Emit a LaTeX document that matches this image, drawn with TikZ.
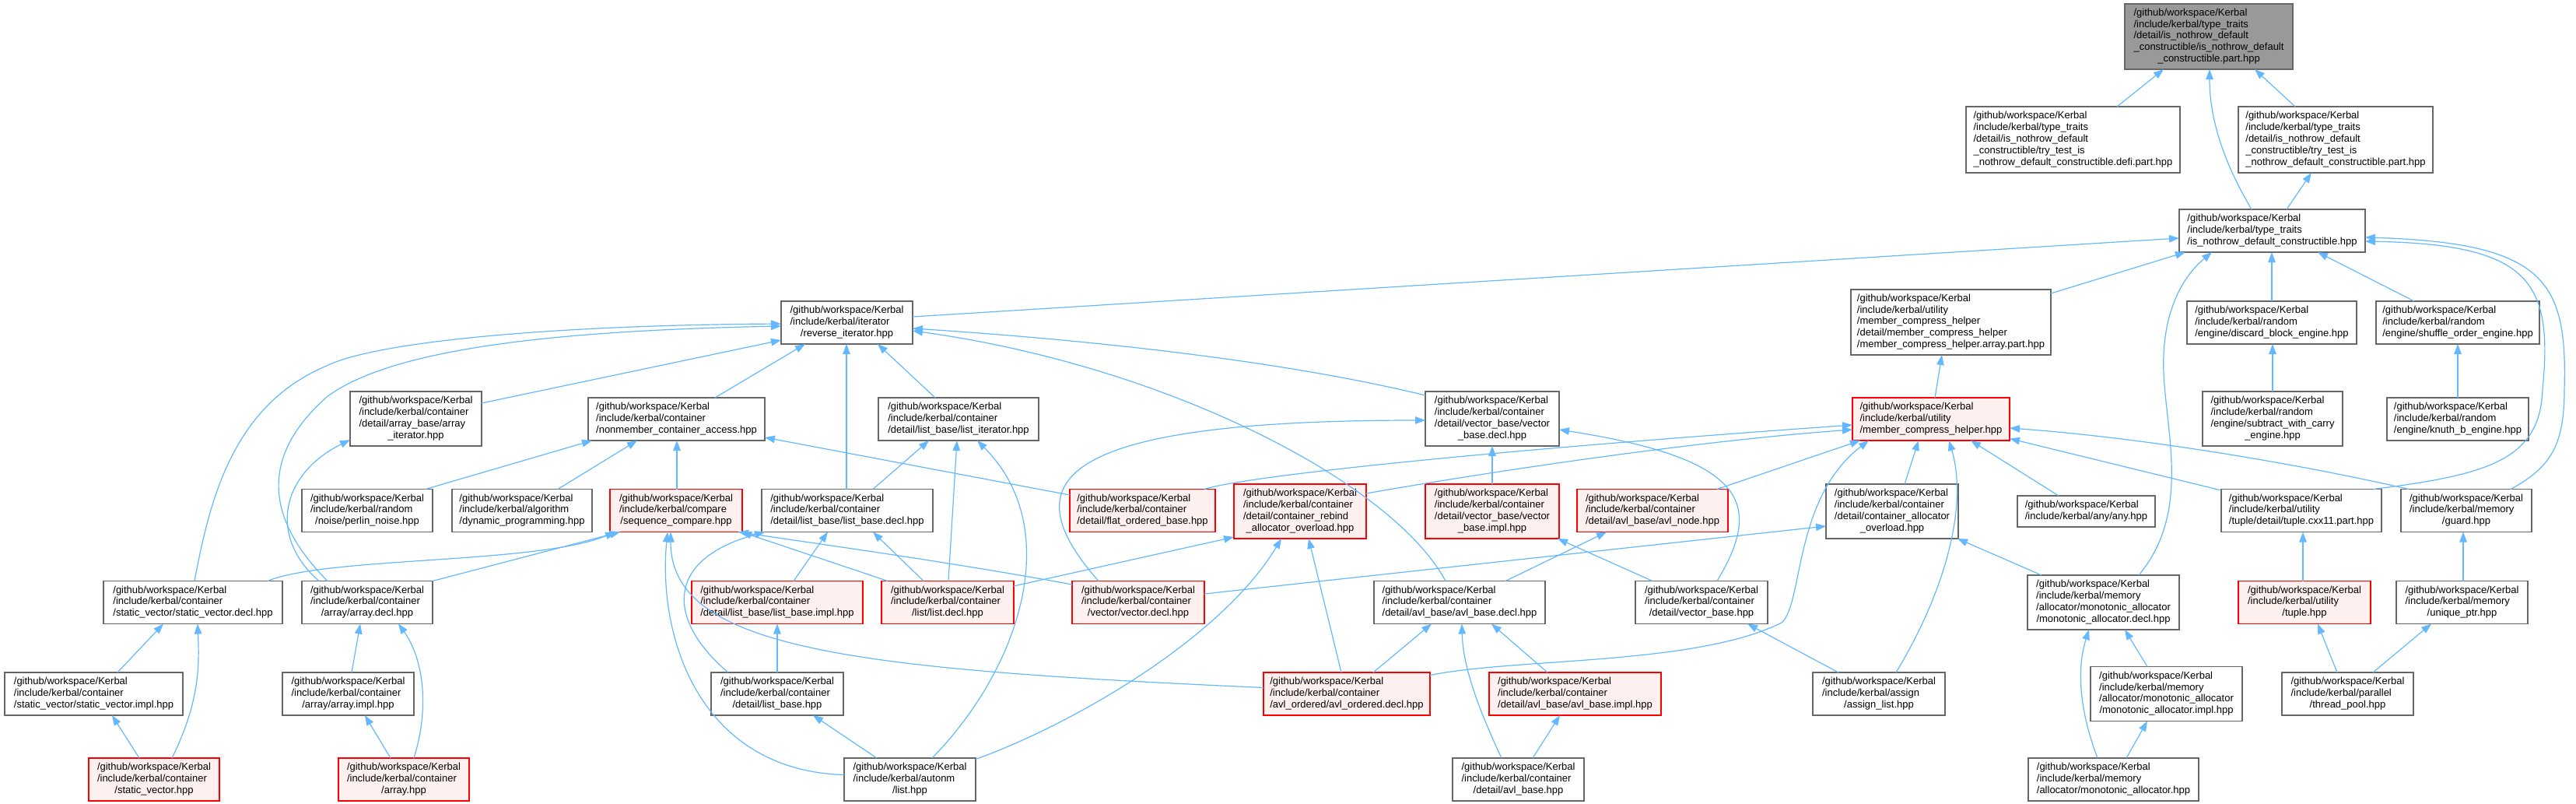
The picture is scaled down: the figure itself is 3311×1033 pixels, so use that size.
\documentclass[tikz,border=0pt]{standalone}
\usepackage{fontspec}
\setmainfont{Liberation Sans}
\usetikzlibrary{arrows.meta,calc}
\definecolor{edgec}{HTML}{63B8FF}
\definecolor{bordc}{HTML}{666666}
\definecolor{redb}{HTML}{FF0000}
\definecolor{redf}{HTML}{FFF0F0}
\definecolor{rootf}{HTML}{999999}
\newcommand\lastl[1]{\multicolumn{1}{@{}c@{}}{#1}}
\newcommand\lbl[1]{\begin{tabular}{@{}l@{}}#1\end{tabular}}
\newcommand\gw{/github/workspace/Kerbal\\}
\newcommand\edg[4]{\draw[edge] ($(#1)+(#2)$) -- ($(#3)+(#4)$);}
\begin{document}
\begin{tikzpicture}[x=1pt,y=-1pt,
  nd/.style={draw=bordc, line width=1.4pt, fill=white, inner sep=0pt, font=\fontsize{13}{14.8}\selectfont},
  rd/.style={nd, draw=redb, fill=redf},
  gd/.style={nd, fill=rootf},
  sz/.style 2 args={minimum width=#1pt, minimum height=#2pt},
  edge/.style={draw=edgec, line width=1.2pt, -{Triangle[length=13pt,width=9.5pt]}}]
\useasboundingbox (0,0) rectangle (3311,1033);

% row A-C
\node[gd, sz={216}{84}] (root) at (2839,47) {\lbl{\gw/include/kerbal/type\_traits\\/detail/is\_nothrow\_default\\\_constructible/is\_nothrow\_default\\\lastl{\_constructible.part.hpp}}};
\node[nd, sz={275}{85}] (defi) at (2664.5,179.5) {\lbl{\gw/include/kerbal/type\_traits\\/detail/is\_nothrow\_default\\\_constructible/try\_test\_is\\\lastl{\_nothrow\_default\_constructible.defi.part.hpp}}};
\node[nd, sz={250}{85}] (tpart) at (3002,179.5) {\lbl{\gw/include/kerbal/type\_traits\\/detail/is\_nothrow\_default\\\_constructible/try\_test\_is\\\lastl{\_nothrow\_default\_constructible.part.hpp}}};
\node[nd, sz={239}{55}] (isn) at (2920.5,296.5) {\lbl{\gw/include/kerbal/type\_traits\\\lastl{/is\_nothrow\_default\_constructible.hpp}}};

% row D
\node[nd, sz={169}{55}] (rev) at (1088.5,414.5) {\lbl{\gw/include/kerbal/iterator\\\lastl{/reverse\_iterator.hpp}}};
\node[nd, sz={257}{84}] (mcha) at (2507.5,414) {\lbl{\gw/include/kerbal/utility\\/member\_compress\_helper\\/detail/member\_compress\_helper\\\lastl{/member\_compress\_helper.array.part.hpp}}};
\node[nd, sz={218}{55}] (disc) at (2920,414.5) {\lbl{\gw/include/kerbal/random\\\lastl{/engine/discard\_block\_engine.hpp}}};
\node[nd, sz={210}{55}] (shuf) at (3159,414.5) {\lbl{\gw/include/kerbal/random\\\lastl{/engine/shuffle\_order\_engine.hpp}}};

% row E
\node[nd, sz={169}{70}] (arit) at (534.5,538) {\lbl{\gw/include/kerbal/container\\/detail/array\_base/array\\\lastl{\_iterator.hpp}}};
\node[nd, sz={227}{55}] (nmca) at (869.5,538.5) {\lbl{\gw/include/kerbal/container\\\lastl{/nonmember\_container\_access.hpp}}};
\node[nd, sz={206}{55}] (lit) at (1232,538.5) {\lbl{\gw/include/kerbal/container\\\lastl{/detail/list\_base/list\_iterator.hpp}}};
\node[nd, sz={172}{70}] (vbd) at (1918,538) {\lbl{\gw/include/kerbal/container\\/detail/vector\_base/vector\\\lastl{\_base.decl.hpp}}};
\node[rd, sz={202}{55}] (mch) at (2482,538.5) {\lbl{\gw/include/kerbal/utility\\\lastl{/member\_compress\_helper.hpp}}};
\node[nd, sz={180}{70}] (swc) at (2921,538) {\lbl{\gw/include/kerbal/random\\/engine/subtract\_with\_carry\\\lastl{\_engine.hpp}}};
\node[nd, sz={182}{55}] (knb) at (3159,538.5) {\lbl{\gw/include/kerbal/random\\\lastl{/engine/knuth\_b\_engine.hpp}}};

% row F
\node[nd, sz={168}{55}] (perl) at (472,656) {\lbl{\gw/include/kerbal/random\\\lastl{/noise/perlin\_noise.hpp}}};
\node[nd, sz={180}{55}] (dyn) at (671,656) {\lbl{\gw/include/kerbal/algorithm\\\lastl{/dynamic\_programming.hpp}}};
\node[rd, sz={170}{55}] (seq) at (869,656) {\lbl{\gw/include/kerbal/compare\\\lastl{/sequence\_compare.hpp}}};
\node[nd, sz={220}{55}] (lbd) at (1089,656) {\lbl{\gw/include/kerbal/container\\\lastl{/detail/list\_base/list\_base.decl.hpp}}};
\node[rd, sz={187}{55}] (fob) at (1468.5,656) {\lbl{\gw/include/kerbal/container\\\lastl{/detail/flat\_ordered\_base.hpp}}};
\node[rd, sz={170}{70}] (cra) at (1671,657) {\lbl{\gw/include/kerbal/container\\/detail/container\_rebind\\\lastl{\_allocator\_overload.hpp}}};
\node[rd, sz={172}{70}] (vbi) at (1918,657) {\lbl{\gw/include/kerbal/container\\/detail/vector\_base/vector\\\lastl{\_base.impl.hpp}}};
\node[rd, sz={194}{55}] (avn) at (2124,656) {\lbl{\gw/include/kerbal/container\\\lastl{/detail/avl\_base/avl\_node.hpp}}};
\node[nd, sz={170}{70}] (cao) at (2432,657) {\lbl{\gw/include/kerbal/container\\/detail/container\_allocator\\\lastl{\_overload.hpp}}};
\node[nd, sz={177}{40}] (any) at (2681.5,657) {\lbl{\gw\lastl{/include/kerbal/any/any.hpp}}};
\node[nd, sz={206}{55}] (tcx) at (2958,656) {\lbl{\gw/include/kerbal/utility\\\lastl{/tuple/detail/tuple.cxx11.part.hpp}}};
\node[nd, sz={168}{55}] (grd) at (3170,656) {\lbl{\gw/include/kerbal/memory\\\lastl{/guard.hpp}}};

% row G
\node[nd, sz={230}{55}] (svd) at (248,774) {\lbl{\gw/include/kerbal/container\\\lastl{/static\_vector/static\_vector.decl.hpp}}};
\node[nd, sz={168}{55}] (ard) at (472,774) {\lbl{\gw/include/kerbal/container\\\lastl{/array/array.decl.hpp}}};
\node[rd, sz={220}{55}] (lbi) at (999,774) {\lbl{\gw/include/kerbal/container\\\lastl{/detail/list\_base/list\_base.impl.hpp}}};
\node[rd, sz={170}{55}] (ld) at (1218,774) {\lbl{\gw/include/kerbal/container\\\lastl{/list/list.decl.hpp}}};
\node[rd, sz={170}{55}] (vd) at (1463,774) {\lbl{\gw/include/kerbal/container\\\lastl{/vector/vector.decl.hpp}}};
\node[nd, sz={220}{55}] (abd) at (1876,774) {\lbl{\gw/include/kerbal/container\\\lastl{/detail/avl\_base/avl\_base.decl.hpp}}};
\node[nd, sz={170}{55}] (vbh) at (2187,774) {\lbl{\gw/include/kerbal/container\\\lastl{/detail/vector\_base.hpp}}};
\node[nd, sz={195}{70}] (mad) at (2703.5,774) {\lbl{\gw/include/kerbal/memory\\/allocator/monotonic\_allocator\\\lastl{/monotonic\_allocator.decl.hpp}}};
\node[rd, sz={170}{55}] (tup) at (2962,774) {\lbl{\gw/include/kerbal/utility\\\lastl{/tuple.hpp}}};
\node[nd, sz={169}{55}] (uptr) at (3164.5,774) {\lbl{\gw/include/kerbal/memory\\\lastl{/unique\_ptr.hpp}}};

% row H
\node[nd, sz={229}{55}] (svi) at (120.5,891.5) {\lbl{\gw/include/kerbal/container\\\lastl{/static\_vector/static\_vector.impl.hpp}}};
\node[nd, sz={169}{55}] (ari) at (447.5,891.5) {\lbl{\gw/include/kerbal/container\\\lastl{/array/array.impl.hpp}}};
\node[nd, sz={170}{55}] (lbh) at (999,891.5) {\lbl{\gw/include/kerbal/container\\\lastl{/detail/list\_base.hpp}}};
\node[rd, sz={214}{55}] (aod) at (1731,891.5) {\lbl{\gw/include/kerbal/container\\\lastl{/avl\_ordered/avl\_ordered.decl.hpp}}};
\node[rd, sz={221}{55}] (abi) at (2024.5,891.5) {\lbl{\gw/include/kerbal/container\\\lastl{/detail/avl\_base/avl\_base.impl.hpp}}};
\node[nd, sz={170}{55}] (asl) at (2415,891.5) {\lbl{\gw/include/kerbal/assign\\\lastl{/assign\_list.hpp}}};
\node[nd, sz={195}{70}] (mai) at (2784.5,891.5) {\lbl{\gw/include/kerbal/memory\\/allocator/monotonic\_allocator\\\lastl{/monotonic\_allocator.impl.hpp}}};
\node[nd, sz={169}{55}] (thp) at (3017.5,891.5) {\lbl{\gw/include/kerbal/parallel\\\lastl{/thread\_pool.hpp}}};

% row I
\node[rd, sz={168}{55}] (svh) at (198,1001.5) {\lbl{\gw/include/kerbal/container\\\lastl{/static\_vector.hpp}}};
\node[rd, sz={168}{55}] (arh) at (519,1001.5) {\lbl{\gw/include/kerbal/container\\\lastl{/array.hpp}}};
\node[nd, sz={169}{55}] (alist) at (1169.5,1001.5) {\lbl{\gw/include/kerbal/autonm\\\lastl{/list.hpp}}};
\node[nd, sz={169}{55}] (abh) at (1951.5,1001.5) {\lbl{\gw/include/kerbal/container\\\lastl{/detail/avl\_base.hpp}}};
\node[nd, sz={219}{55}] (mah) at (2716.5,1001.5) {\lbl{\gw/include/kerbal/memory\\\lastl{/allocator/monotonic\_allocator.hpp}}};

% edges
\edg{defi}{56.5,-42.5}{root}{-58,42}
\edg{tpart}{-52,-42.5}{root}{59,42}
\draw[edge] ($(isn)+(-26.5,-27.5)$) .. controls (2850,195) and (2840,140) .. ($(root)+(1,42)$);
\edg{isn}{18.5,-27.5}{tpart}{-31,42.5}
\edg{rev}{84.5,-7.5}{isn}{-119.5,9.5}
\edg{mcha}{128.5,-37}{isn}{-111.5,27.5}
\edg{disc}{0,-27.5}{isn}{-0.5,27.5}
\edg{shuf}{-56,-27.5}{isn}{58.5,27.5}
\draw[edge] ($(tcx)+(92,-27.5)$) .. controls (3200,610) and (3265,590) .. (3268,500) .. controls (3282,360) and (3250,314) .. ($(isn)+(119.5,13.5)$);
\draw[edge] ($(grd)+(57,-27.5)$) .. controls (3280,600) and (3296,570) .. (3296,500) .. controls (3300,360) and (3270,312) .. ($(isn)+(119.5,8.5)$);
\draw[edge] ($(mad)+(45.5,-35)$) .. controls (2815,660) and (2785,560) .. (2781,480) .. controls (2778,410) and (2800,360) .. ($(isn)+(-77.5,27.5)$);
\edg{swc}{0,-35}{disc}{1,27.5}
\edg{knb}{0,-27.5}{shuf}{0,27.5}
\edg{mch}{5,-27.5}{mcha}{-11.5,42}
\edg{arit}{84.5,-20}{rev}{-84.5,22.5}
\edg{nmca}{49.5,-27.5}{rev}{-53.5,27.5}
\edg{lit}{-30,-27.5}{rev}{39.5,27.5}
\draw[edge] ($(vbd)+(-86,-30)$) .. controls (1660,466) and (1420,438) .. ($(rev)+(84.5,7.5)$);
\draw[edge] ($(svd)+(2,-27.5)$) .. controls (270,640) and (300,520) .. (420,470) .. controls (480,440) and (700,418) .. ($(rev)+(-84.5,1.5)$);
\draw[edge] ($(ard)+(-51,-27.5)$) .. controls (345,670) and (330,590) .. (420,510) .. controls (500,450) and (700,425) .. ($(rev)+(-84.5,4.5)$);
\edg{lbd}{-1,-27.5}{rev}{-0.5,27.5}
\draw[edge] ($(abd)+(-18,-27.5)$) .. controls (1790,620) and (1500,470) .. ($(rev)+(84.5,10.5)$);
\edg{perl}{75,-27.5}{nmca}{-108.5,27.5}
\edg{dyn}{46,-27.5}{nmca}{-50.5,27.5}
\edg{seq}{1,-27.5}{nmca}{0.5,27.5}
\edg{fob}{-93.5,-20}{nmca}{113.5,23.5}
\draw[edge] ($(svd)+(96,-27.5)$) .. controls (420,715) and (690,725) .. ($(seq)+(-78,27.5)$);
\edg{ard}{84,-27.5}{seq}{-72,27.5}
\draw[edge] ($(alist)+(-84.5,-6)$) .. controls (900,990) and (845,820) .. ($(seq)+(-11,27.5)$);
\edg{ld}{-77,-27.5}{seq}{84,27.5}
\draw[edge] ($(vd)+(-85,-23)$) .. controls (1220,722) and (1060,700) .. ($(seq)+(80,27.5)$);
\draw[edge] ($(aod)+(-107,-8)$) .. controls (1100,860) and (862,835) .. ($(seq)+(-7,27.5)$);
\edg{lbi}{21,-27.5}{lbd}{-25,27.5}
\edg{ld}{-31,-27.5}{lbd}{33,27.5}
\draw[edge] ($(lbh)+(-63,-27.5)$) .. controls (860,800) and (850,720) .. ($(lbd)+(-106,27.5)$);
\edg{lbh}{0,-27.5}{lbi}{0,27.5}
\edg{alist}{-42.5,-27.5}{lbh}{46,27.5}
\edg{lbd}{33,-27.5}{lit}{-38,27.5}
\edg{ld}{1,-27.5}{lit}{-2,27.5}
\draw[edge] ($(alist)+(28.5,-27.5)$) .. controls (1310,860) and (1370,680) .. ($(lit)+(24,27.5)$);
\edg{vbi}{0,-35}{vbd}{0,35}
\draw[edge] ($(vd)+(-51,-27.5)$) .. controls (1300,620) and (1350,540) .. ($(vbd)+(-86,2)$);
\draw[edge] ($(vbh)+(20,-27.5)$) .. controls (2265,650) and (2250,590) .. ($(vbd)+(86,14)$);
\edg{vbh}{-63,-27.5}{vbi}{84,35}
\edg{ld}{85,-21}{cra}{-85,33}
\draw[edge] ($(alist)+(84.5,-26)$) .. controls (1380,930) and (1570,820) .. ($(cra)+(-24,35)$);
\edg{aod}{-7,-27.5}{cra}{11,35}
\draw[edge] ($(fob)+(79.5,-27.5)$) .. controls (1600,612) and (1900,580) .. ($(mch)+(-101,7.5)$);
\draw[edge] ($(cra)+(85,-23)$) .. controls (1950,600) and (2200,565) .. ($(mch)+(-101,13.5)$);
\edg{avn}{83,-27.5}{mch}{-91,27.5}
\edg{cao}{16,-35}{mch}{-16,27.5}
\draw[edge] ($(aod)+(107,-24)$) .. controls (1950,845) and (2180,855) .. (2290,800) .. controls (2318,775) and (2305,640) .. ($(mch)+(-80,27.5)$);
\draw[edge] ($(asl)+(22,-27.5)$) .. controls (2500,760) and (2530,650) .. ($(mch)+(23,27.5)$);
\edg{any}{-35.5,-20}{mch}{51,27.5}
\edg{tcx}{-103,-26}{mch}{101,25}
\draw[edge] ($(grd)+(-74,-27.5)$) .. controls (2950,595) and (2750,562) .. ($(mch)+(101,11.5)$);
\edg{abd}{59,-27.5}{avn}{-59,27.5}
\edg{aod}{34,-27.5}{abd}{-36,27.5}
\draw[edge] ($(abh)+(-21.5,-27.5)$) .. controls (1895,900) and (1880,850) .. ($(abd)+(3,27.5)$);
\edg{abi}{-35.5,-27.5}{abd}{41,27.5}
\edg{abh}{18.5,-27.5}{abi}{-19.5,27.5}
\edg{asl}{-52,-27.5}{vbh}{59,27.5}
\edg{vd}{85,-11}{cao}{-85,19}
\edg{mad}{-79.5,-35}{cao}{84,35}
\edg{mai}{-24.5,-35}{mad}{27.5,35}
\draw[edge] ($(mah)+(-20.5,-27.5)$) .. controls (2668,900) and (2672,850) .. ($(mad)+(-18.5,35)$);
\edg{mah}{16.5,-27.5}{mai}{-24.5,35}
\edg{tup}{-2,-27.5}{tcx}{2,27.5}
\edg{thp}{-13.5,-27.5}{tup}{17,27.5}
\edg{uptr}{1.5,-27.5}{grd}{-4,27.5}
\edg{thp}{32.5,-27.5}{uptr}{-39.5,27.5}
\draw[edge] ($(ard)+(-62,-27.5)$) .. controls (345,690) and (360,610) .. ($(arit)+(-84.5,27)$);
\edg{ari}{4.5,-27.5}{ard}{-9,27.5}
\draw[edge] ($(arh)+(13,-27.5)$) .. controls (555,900) and (540,840) .. ($(ard)+(40,27.5)$);
\edg{arh}{-17,-27.5}{ari}{21.5,27.5}
\edg{svi}{30.5,-27.5}{svd}{-38,27.5}
\draw[edge] ($(svh)+(23,-27.5)$) .. controls (258,900) and (256,850) .. ($(svd)+(6,27.5)$);
\edg{svh}{-19,-27.5}{svi}{23.5,27.5}
\end{tikzpicture}
\end{document}
